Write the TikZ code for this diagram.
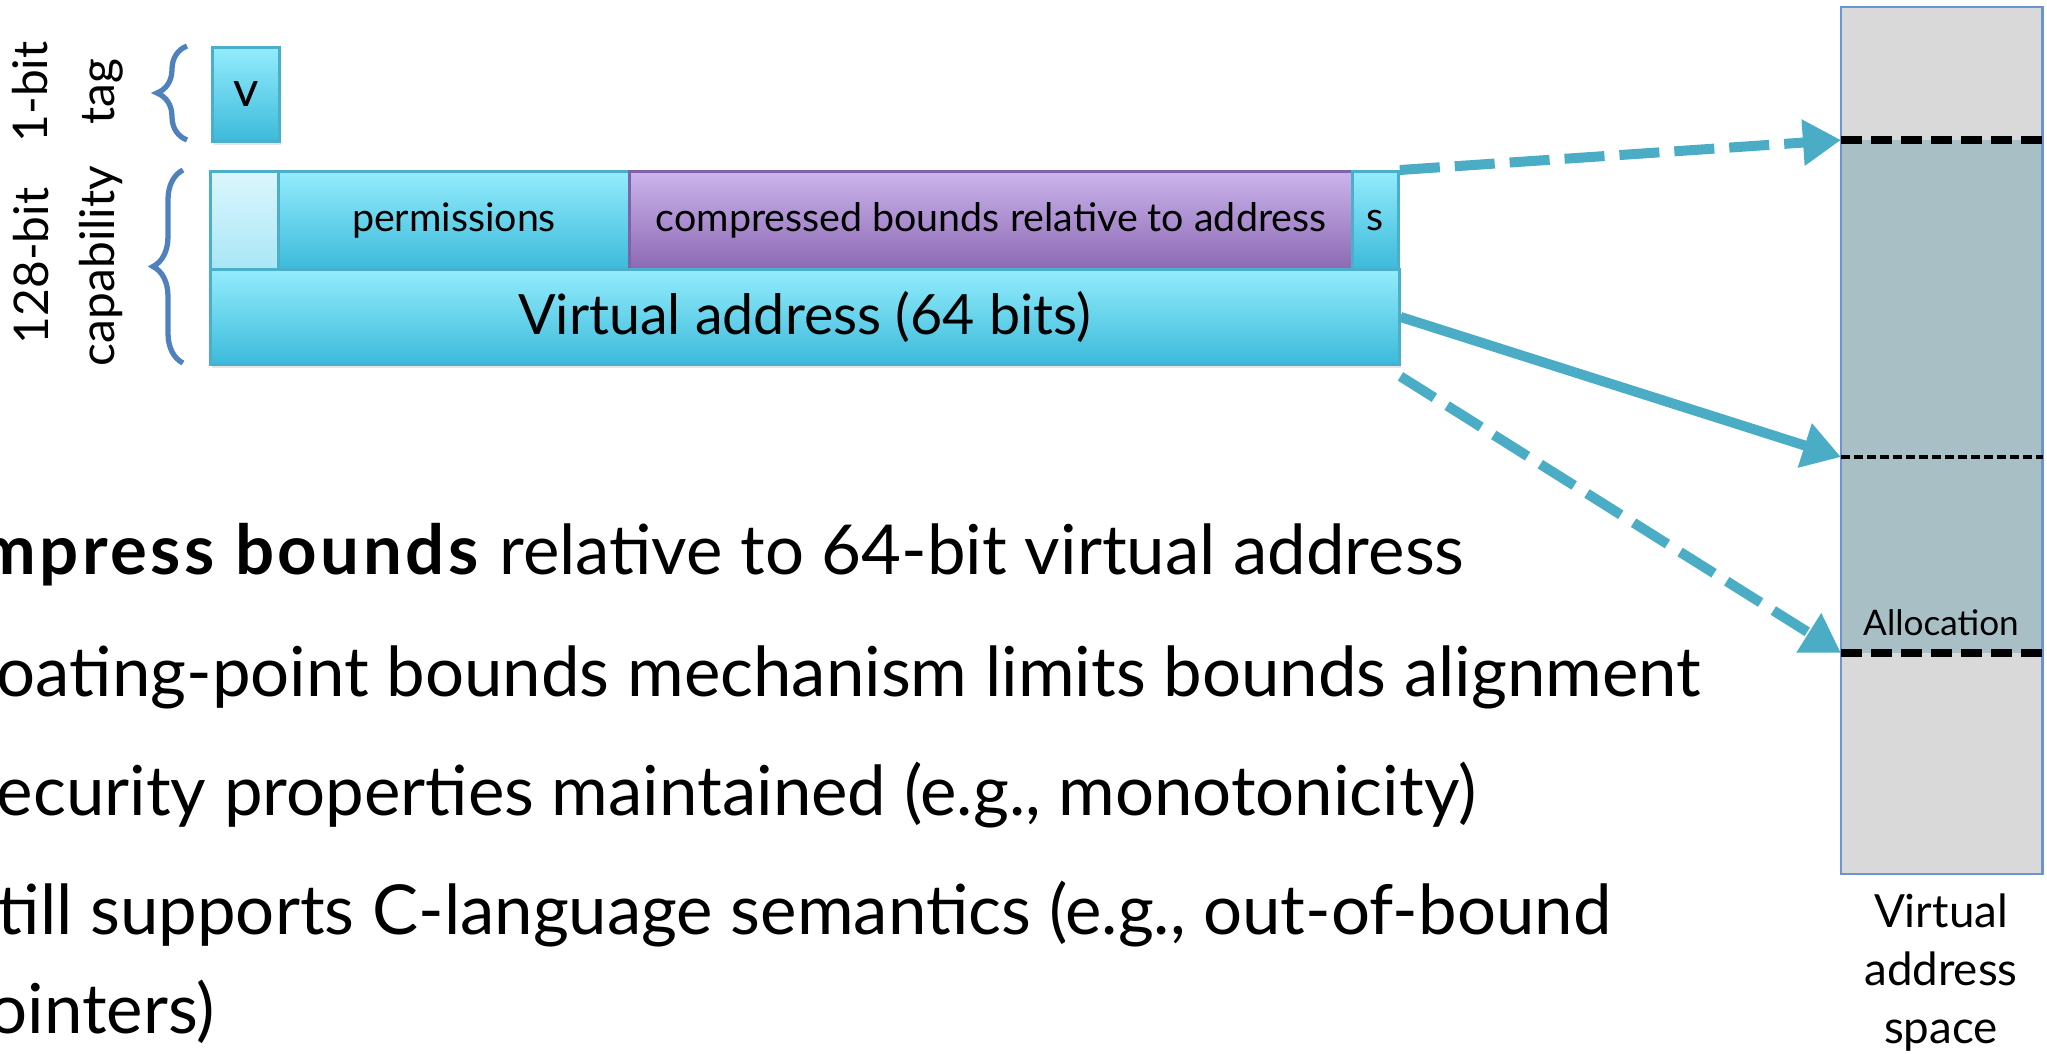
\documentclass[tikz,border=0pt]{standalone}
\usepackage{fontspec}
\setmainfont{Lato}
\usetikzlibrary{arrows.meta,decorations.pathreplacing,shadows}

\definecolor{cyantop}{HTML}{93ECFC}
\definecolor{cyanbot}{HTML}{3CBADB}
\definecolor{cyanedge}{HTML}{4BAFCB}
\definecolor{lighttop}{HTML}{DCF6FD}
\definecolor{lightbot}{HTML}{A9E6F6}
\definecolor{purptop}{HTML}{CBB4EC}
\definecolor{purpbot}{HTML}{8C69B3}
\definecolor{purpedge}{HTML}{7F63A8}
\definecolor{arrowcol}{HTML}{4BACC6}
\definecolor{bracecol}{HTML}{4F81BD}
\definecolor{vasgray}{HTML}{D9D9D9}
\definecolor{allocfill}{HTML}{A9BFC6}
\definecolor{vasedge}{HTML}{6C95CF}

\begin{document}
\begin{tikzpicture}[x=0.01cm,y=-0.01cm,
    every node/.style={inner sep=0pt},
    field/.style={draw=cyanedge,line width=0.8pt,top color=cyantop,bottom color=cyanbot,
      anchor=north west,drop shadow={opacity=0.2,shadow xshift=0.4pt,shadow yshift=-0.9pt}},
    boundsfield/.style={field,draw=purpedge,top color=purptop,bottom color=purpbot},
    blankfield/.style={field,top color=lighttop,bottom color=lightbot},
    small/.style={font=\fontsize{11.2}{13}\selectfont},
    bullet/.style={anchor=base west,font=\fontsize{19.6}{23}\selectfont},
    sidelbl/.style={rotate=90,align=center,font=\fontsize{13.6}{19}\selectfont},
    bracket/.style={draw=bracecol,line width=1.5pt,decorate,decoration={brace,amplitude=0.3cm}},
    ptr/.style={draw=arrowcol,line width=0.1cm,-{Triangle[length=0.38cm,width=0.44cm]}},
    dashptr/.style={ptr,dash pattern=on 0.4cm off 0.15cm},
    bounddash/.style={line width=2.2pt,dash pattern=on 0.21cm off 0.09cm},
    cursordash/.style={line width=0.9pt,dash pattern=on 0.09cm off 0.04cm}]
  \useasboundingbox (0,0) rectangle (2047,1054);
  \clip (0,0) rectangle (2047,1054);

  \node[sidelbl] (taglbl) at (68,92) {1-bit\\tag};
  \node[sidelbl] (caplbl) at (68,266) {128-bit\\capability};
  \draw[bracket] (187,140) -- (187,46);
  \draw[bracket] (183,363) -- (183,170);

  \node[field,minimum width=0.67cm,minimum height=0.94cm,font=\fontsize{14}{16}\selectfont] (tag) at (211,46) {v};

  \node[blankfield,minimum width=0.68cm,minimum height=0.98cm] (res) at (209,170) {};
  \node[field,small,minimum width=3.51cm,minimum height=0.98cm] (perms) at (277,170) {permissions};
  \node[boundsfield,small,minimum width=7.23cm,minimum height=0.98cm] (bounds) at (628,170) {compressed bounds relative to address};
  \node[field,small,minimum width=0.46cm,minimum height=0.98cm] (sbit) at (1351,170) {s};
  \node[field,minimum width=11.88cm,minimum height=0.95cm,font=\fontsize{15.8}{18}\selectfont] (va) at (209,268) {Virtual address (64 bits)};

  \node[bullet] (pt1) at (-22,574) {\textbf{\addfontfeatures{LetterSpace=5}mpress bounds} relative to 64-bit virtual address};
  \node[bullet] (pt2) at (-4,696) {oating-point bounds mechanism limits bounds alignment};
  \node[bullet] (pt3) at (-4,815) {ecurity properties maintained (e.g., monotonicity)};
  \node[bullet] (pt4) at (-3,934) {till supports C-language semantics (e.g., out-of-bound};
  \node[bullet] (pt5) at (-12,1033) {ointers)};

  \node[fill=vasgray,anchor=north west,minimum width=2cm,minimum height=8.65cm] (vas) at (1841,7) {};
  \fill[allocfill] (1841,140) rectangle (2041,653);
  \draw[vasedge,line width=0.6pt] (vas.north west) rectangle (vas.south east);
  \coordinate (alloctop) at (1841,140);
  \coordinate (cursor) at (1841,457);
  \coordinate (allocbot) at (1841,653);
  \draw[bounddash] (alloctop) -- (alloctop -| vas.east);
  \draw[cursordash] (cursor) -- (cursor -| vas.east);
  \draw[bounddash] (allocbot) -- (allocbot -| vas.east);
  \node[font=\fontsize{10}{12}\selectfont] (alloclbl) at (1941,623) {Allocation};
  \node[align=center,font=\fontsize{13}{16.5}\selectfont] (vaslbl) at (1941,973) {Virtual\\address\\space};

  \draw[dashptr] (sbit.north east) -- (alloctop);
  \draw[ptr] (va.east) -- (cursor);
  \draw[dashptr] ([yshift=-3pt]va.south east) -- (allocbot);
\end{tikzpicture}
\end{document}
